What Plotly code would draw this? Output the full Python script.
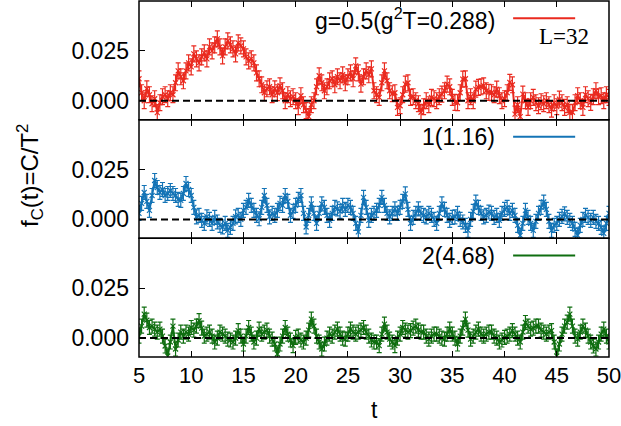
import numpy as np
import plotly.graph_objects as go
from plotly.subplots import make_subplots

# time grid (t = 5 ... 50, step 0.25)
t = np.arange(5.0, 50.001, 0.25)

# values in units of 1e-3
red_1e3 = [
    11, 4, 0, 6, 3, -1.5, 1, -6, -1, 2, 3, 1, 4, 3, 9, 15, 12, 10, 15, 19,
    17, 23.5, 21, 19, 22, 24, 21, 27, 25, 28, 31, 27, 22.5, 27, 30, 28, 26, 23.5, 29, 27.5,
    26, 22, 20, 21, 19, 14, 11, 8, 4, 6, 7, 3, 6, 4, 7.5, 5, 0, 3, 1, 2,
    0, -3, 2.5, -2, -5, -8, -2, 0, 7, 12.5, 9, 5, 7, 10, 11, 8, 12, 10, 13, 9,
    12, 14, 11, 17.5, 14, 8.3, 12, 15, 13, 16, 5, 3, 1.7, 9, 15, 10, 5, 3.5, 4, -3.3,
    -2.5, 3, 8.3, 9, 1.7, 2, 0, -1.5, -5.8, -3, 0, -2, 1.7, 1, 0, 2, 3.3, 5, 8.3, 7,
    1.7, -0.8, -1, 4, 10.8, 11, 0, 2, 0, 5.8, 6.7, 7, 7.5, 5, 4.2, 4, 3, 5.8, 2.5, 0,
    1, 4, 9.2, 8, -6.7, -2, -8, 3.3, 0, -3.3, 0, 1.7, -1, -2.5, -0.5, -1.5, 0, -2, -4.2, -1,
    -3, 0.8, -1, -3.3, -2, -6, -5.8, -1, 2.5, 0, -3.3, 3, 1, -0.8, 2, 5, 2, 2.5, 0, 3,
    1.7,
]
blue_1e3 = [
    3, 8, 13.5, 9, 4.5, 12, 19.5, 16, 13.5, 15, 12, 13, 14.5, 13, 12, 10, 9.5, 13, 18, 15,
    12, 6, 1.3, 2, -0.5, -2, 1.3, 0, -2, 1, -1.3, -3, -3.8, -2, -5.5, -4, -2, 1.3, 2, 0,
    4.5, 6, 9.5, 7, 4.5, 2, 0.3, 6, 12, 7, 1.3, 3, 2, 4.5, 8, 7, 12, 9, 2, 4,
    7, 10, 12, 3, -3.8, 2, 7.8, 3, -2, 3, 7.8, 6, 2, -0.5, 3, 6, 5.3, 4, 7, 5,
    7, 6, 3, -2, -6.3, 2, 11, 6, -0.5, 2, 3, 4.5, 7, 11, 7, 3, 1.3, 3, 5.3, 3,
    6, 9, 12.8, 5, -2, 1, 3, 5.3, 3, 2, 1.3, 3, 2, 0, -2, 3, 7.8, 5, 2, -0.5,
    1, 1.3, 3, 0, -1.3, -3, -5.5, 0, 4, 8.7, 6, 3, 1.3, 2, 3.7, 3, 1, 2, -0.5, 3,
    5, 6, 3, 4.5, 2, -3, -8, -2, 4.5, 1, -2, -5.5, -1, 3, 6, 8.7, 5, -1, -5.5, -3,
    -2, 0, 1.5, 2.8, 1, -0.5, -2, -5, -8, -3, 0, 2, 1, -0.5, 1, -1, -2, -4, -7, -2,
    3,
]
green_1e3 = [
    1, 6, 12, 9, 5.3, 6, 4.5, 3, 4.5, 1, -4, -9, -2, 6, -5.5, -1, 3, 1, 3, 2,
    5.3, 4, 6, 8.7, 5, 1, 2, 3, 1, -2, 0, 3, 2, 1, -0.5, -1, -2, 0, 3.7, 1,
    -3, 1, 5.3, 2, -2, 0, 4.5, 2, 3, 4, 1, -0.5, -3, -8, -3, 1, 5.3, 2, -1, -3.8,
    0.3, 1, -1, -2, 0, 4, 9.5, 6, 1, -2, -5.5, -3, 0, 2, 1, 3, 4.5, 2, 0, -0.5,
    2, 4.5, 3, 2, 3, 4, 5.3, 3, 1, -1, -2, -2, -3.8, 2, 7, 3, -0.5, -2, -3.8, 0,
    2, 5.3, 4, 3, 3.7, 5, 6, 4, 3, 3, 1, -0.5, 1, 2, 2, 1, 0, -0.5, 2, 4.5,
    2, 0, -3, 1, 5, 9.5, 4, -0.5, 1, 3, 4.5, 2, 1, 2, 3, 3, 1, 0, -2, -1,
    0.3, 1, 2, 3.7, 2, 0, -2, 3, 7.8, 6, 4.5, 5, 6, 6, 4, 3, 2, 3, 3.7, -2,
    -9, -3, 2, 6, 8, 12, 6, 1, -0.5, 3, 6, 4, 1, -2, -4, -5.5, -2, 2, 4.5, 1,
    -2,
]
err_red = 0.004
err_blue = 0.0035
err_green = 0.0035

labels = ["g=0.5(g<sup>2</sup>T=0.288)", "1(1.16)", "2(4.68)"]
colors = ["#ea2a1f", "#1474b6", "#0f6e10"]
series = [red_1e3, blue_1e3, green_1e3]
errs = [err_red, err_blue, err_green]

fig = make_subplots(rows=3, cols=1, shared_xaxes=True, vertical_spacing=0)

for i, (vals, col, err) in enumerate(zip(series, colors, errs)):
    y = np.array(vals) * 1e-3
    fig.add_trace(go.Scatter(
        x=t, y=y, mode="lines+markers",
        line=dict(color=col, width=2),
        marker=dict(symbol="x-thin", size=5, line=dict(width=1.2, color=col), color=col),
        error_y=dict(type="constant", value=err, thickness=1.2, width=2.5, color=col),
        showlegend=False, hoverinfo="skip",
    ), row=i + 1, col=1)
    fig.add_hline(y=0, line=dict(color="black", width=2, dash="7px,4px"), row=i + 1, col=1)

FONT = "Liberation Sans, Arial, sans-serif"
for i in range(3):
    r = i + 1
    fig.update_xaxes(range=[5, 50], tickvals=list(range(5, 51, 5)), ticks="inside",
                     ticklen=6, tickwidth=1.4, tickcolor="black",
                     showline=False, mirror="ticks",
                     showgrid=False, zeroline=False, showticklabels=(r == 3),
                     ticklabelstandoff=3, ticklabeloverflow="allow",
                     tickfont=dict(family=FONT, size=22, color="black"), row=r, col=1)
    fig.update_yaxes(range=[-0.0095, 0.05], tickvals=[0, 0.025], ticktext=["0.000", "0.025"],
                     ticks="inside", ticklen=6, tickwidth=1.4, tickcolor="black",
                     showline=False, mirror=False, ticklabelstandoff=9,
                     showgrid=False, zeroline=False,
                     tickfont=dict(family=FONT, size=23, color="black"), row=r, col=1)

annotations = []
shapes = []
axes_suffix = ["", "2", "3"]
for i in range(3):
    s = axes_suffix[i]
    annotations.append(dict(text=labels[i], xref=f"x{s} domain", yref=f"y{s} domain",
                            x=0.762, y=0.85, xanchor="right", yanchor="middle", showarrow=False,
                            font=dict(family=FONT, size=23, color="black")))
    shapes.append(dict(type="line", xref=f"x{s} domain", yref=f"y{s} domain",
                       x0=0.796, x1=0.928, y0=0.855, y1=0.855,
                       line=dict(color=colors[i], width=2)))
    shapes.append(dict(type="rect", xref=f"x{s} domain", yref=f"y{s} domain",
                       x0=0, x1=1, y0=0, y1=1, line=dict(color="black", width=1.5),
                       fillcolor="rgba(0,0,0,0)", layer="above"))

annotations.append(dict(text="L=32", xref="x domain", yref="y domain", x=0.904, y=0.70,
                        xanchor="center", yanchor="middle", showarrow=False,
                        font=dict(family="Liberation Serif, Times New Roman, serif", size=23, color="black")))
annotations.append(dict(text="f<sub>C</sub>(t)=C/T<sup>2</sup>", xref="paper", yref="paper",
                        x=-0.232, y=0.511, xanchor="center", yanchor="middle", textangle=-90,
                        showarrow=False, font=dict(family=FONT, size=24, color="black")))
annotations.append(dict(text="t", xref="paper", yref="paper", x=0.5, y=-0.149,
                        xanchor="center", yanchor="middle", showarrow=False,
                        font=dict(family=FONT, size=23, color="black")))

for a in annotations:
    fig.add_annotation(**a)
for sh in shapes:
    fig.add_shape(**sh)

fig.update_layout(width=621, height=426, margin=dict(l=139, r=12, t=1, b=69),
                  paper_bgcolor="white", plot_bgcolor="white",
                  font=dict(family=FONT, color="black"))

fig.write_html("out.html", config={"displayModeBar": False},
               post_script="document.body.style.margin='0px';")
